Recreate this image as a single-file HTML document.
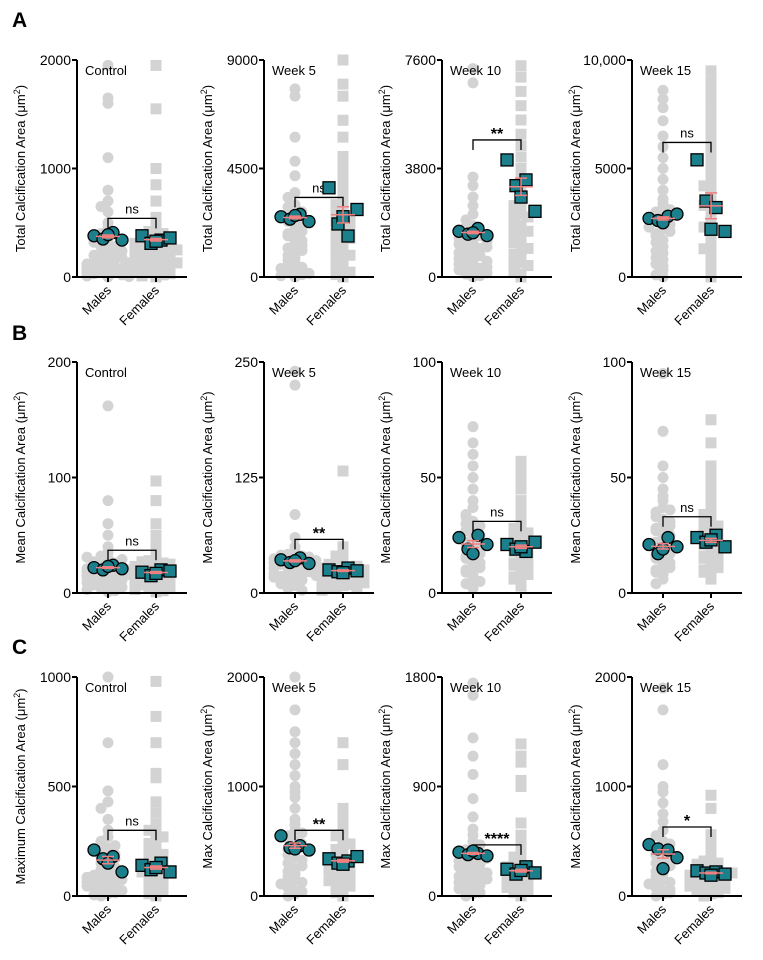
<!DOCTYPE html>
<html><head><meta charset="utf-8"><style>
body{margin:0;background:#fff}
svg{display:block;font-family:"Liberation Sans",Arial,sans-serif}
</style></head><body>
<svg id="fig" width="763" height="960" viewBox="0 0 763 960">
<text x="12" y="27" font-size="21" font-weight="bold">A</text>
<text x="12" y="340" font-size="21" font-weight="bold">B</text>
<text x="12" y="654" font-size="21" font-weight="bold">C</text>
</svg>
<script>
const axisX=[77,264,442,632];
const rowTop=[60,362,677];
const rowBot=[277,593,896];
const titles=["Control","Week 5","Week 10","Week 15"];
const yLabels=["Total Calcification Area","Mean Calcification Area","Max Calcification Area"];
const yMax=[2000,9000,7600,10000,200,250,100,100,1000,2000,1800,2000];
const tickLabels=[["0","1000","2000"],["0","4500","9000"],["0","3800","7600"],["0","5000","10,000"],["0","100","200"],["0","125","250"],["0","50","100"],["0","50","100"],["0","500","1000"],["0","1000","2000"],["0","900","1800"],["0","1000","2000"]];
const sigText=["ns","ns","**","ns","ns","**","ns","ns","ns","**","****","*"];
const bracketVal=[540,3300,4800,6200,37,58,31,33,300,600,420,630];
const maleMice=[[380,350,410,340,390],[2500,2400,2600,2300,2550],[1600,1500,1700,1450,1550],[2700,2600,2800,2900,2500],[22,20,24,21,23],[36,33,38,32,35],[24,19,25,21,17],[21,17,24,20,19],[210,170,180,110,150],[550,440,460,420,430],[360,340,350,330,370],[470,430,420,350,250]];
const femaleMice=[[380,310,340,360,330],[3700,2200,1700,2800,2500],[4100,3200,3400,2300,2800],[5400,3500,3200,2100,2200],[18,15,20,19,17],[25,23,27,24,22],[21,19,18,22,20],[24,22,25,20,23],[140,120,150,110,130],[340,300,320,360,290],[220,180,240,190,210],[230,210,220,200,190]];
const maleCells=[
[1950,1650,1600,1100,800,700,650,600,500,450,400,350,300,280,250,220,200,180,150,120,100,90,80,60,50,40,30,20,10,5,0,10,25,40,60,80,100,130,160,200,240,280,320,15,35,55,75,95,120,150,180,5,20,45,70],
[7800,7500,5800,4800,4200,3500,3300,3000,2800,2600,2200,2000,1800,1600,1400,1200,1000,900,800,600,500,400,300,200,100,50,2900,2700,2500,2300,2100,1900,1700,1500,1300,1100,700,350,150,0],
[7300,6800,3500,3200,2800,2500,2200,2000,1800,1600,1400,1300,1200,1100,1000,900,800,700,600,500,400,300,200,100,50,1750,1650,1550,1450,1350,1250,1150,1050,950,850,750,650,550,450,350,250,150,0],
[8600,8200,7800,7200,6500,6000,5500,5000,4500,4000,3600,3200,3000,2800,2500,2200,2000,1700,1400,1100,800,500,300,100,3400,3100,2900,2700,2600,2400,2300,2100,1900,1600,1200,900,600,0],
[162,80,60,50,40,35,32,30,28,26,24,22,20,19,18,17,16,15,14,12,10,8,6,4,2,25,23,21,20,19,18,16,15,13,11,9,7,5,3,1,27,29,31],
[240,225,85,60,50,45,42,40,38,36,34,32,30,28,26,24,22,20,18,15,12,8,5,41,39,37,35,33,31,29,27,25,23,21,19,17,14,10,3],
[72,65,60,55,50,45,40,37,34,31,28,26,24,22,20,18,16,14,12,10,8,6,4,2,33,30,29,27,25,23,21,19,17,15,13,11,9,5],
[95,70,55,50,45,42,40,37,35,32,30,28,26,24,22,20,18,16,14,12,10,8,6,36,33,31,29,27,25,23,21,19,17,15,13,11,9,4],
[1000,700,480,430,400,350,300,270,250,220,200,180,160,140,120,100,90,80,70,60,50,40,30,20,10,0,15,35,55,75,95,110,130,150,170,190,210,230,5,25,45,65,85],
[2000,1700,1500,1400,1300,1200,1100,1000,950,900,800,700,650,600,550,500,450,400,350,300,250,200,150,100,50,20,0,75,125,175,225,275,325,375,425,475,525,575,40,110],
[1750,1650,1300,1150,1000,800,650,550,500,450,400,350,320,300,280,250,220,200,170,150,120,100,80,50,20,0,30,60,90,110,140,160,190,210,240,260,290,310,330,380,420],
[1900,1700,1200,1000,950,850,750,680,600,550,500,450,400,350,300,250,200,150,100,50,20,0,30,75,125,175,225,275,325,375,425,475,60,110]];
const femaleCells=[
[1950,1550,1000,850,700,550,500,450,420,400,380,350,320,300,280,260,240,220,200,180,160,140,120,100,80,60,40,20,0,10,30,50,70,90,110,130,150,170,190,210,230,250,270,290,310,330,360],
[9000,8000,7500,6500,5800,5000,4600,4200,3800,3500,3200,3000,2800,2500,2200,2000,1800,1500,1200,1000,800,500,300,100,2700,2600,2400,2300,2100,1900,1700,1600,1400,1100,900,700,400,200,0],
[7400,7000,6500,6000,5500,5000,4600,4200,3800,3500,3200,2900,2600,2400,2200,2000,1800,1500,1300,1100,900,700,500,300,100,1900,1700,1600,1400,1200,1000,800,600,400,200,0,2100,2300,2500],
[9500,9000,8500,8000,7500,7000,6500,6000,5500,5000,4500,4000,3500,3000,2500,2000,1500,1000,500,200,3800,3300,2800,2300,1800,1300,800,0,4200,4700],
[97,80,60,50,45,40,35,30,28,26,24,22,20,18,16,14,12,10,8,6,4,2,21,19,17,15,13,11,9,7,5,3,1,25,27,23],
[132,50,45,40,35,32,30,28,26,24,22,20,18,16,14,12,10,8,6,31,29,27,25,23,21,19,17,15,13,11,9,7,5,3],
[57,55,52,48,45,40,36,33,30,27,25,23,21,19,17,15,13,11,9,7,5,3,24,22,20,18,16,14,12,10,8,6,28,26],
[75,65,55,52,48,44,40,36,33,30,28,26,24,22,20,18,16,14,12,10,8,6,34,31,29,27,25,23,21,19,17,15,13,11,9],
[980,820,700,560,540,430,380,330,290,260,230,200,180,160,140,120,100,80,60,40,20,0,10,30,50,70,90,110,130,150,170,190,210,240,270,300],
[1400,1200,800,750,700,650,600,550,500,450,400,350,300,250,200,150,100,50,0,30,75,125,175,225,275,325,375,425,475,90,140,190,240],
[1250,1150,1100,950,900,600,500,450,400,350,300,250,220,200,180,150,120,90,60,30,0,40,70,100,130,160,190,210,240,270,320],
[920,800,560,500,420,350,320,300,280,250,220,200,180,160,140,120,100,80,60,40,20,0,30,50,70,90,110,130,150,170,190,210,230,260,290]];

const svg=document.getElementById('fig');
const NS='http://www.w3.org/2000/svg';
function mk(tag,attrs,parent){const e=document.createElementNS(NS,tag);for(const k in attrs)e.setAttribute(k,attrs[k]);(parent||svg).appendChild(e);return e;}
const mean=a=>a.reduce((s,v)=>s+v,0)/a.length;
const sem=a=>{const m=mean(a);return Math.sqrt(a.reduce((s,v)=>s+(v-m)*(v-m),0)/(a.length-1))/Math.sqrt(a.length);};

for(let p=0;p<12;p++){
  const r=Math.floor(p/4),c=p%4;
  const ax=axisX[c],top=rowTop[r],bot=rowBot[r];
  const y=v=>bot-(v/yMax[p])*(bot-top);
  const mx=ax+31,fx=ax+79;
  const g=mk('g',{});
  
  
  [[maleCells[p],mx,'circle'],[femaleCells[p],fx,'rect']].forEach(([arr,cx,shape])=>{
    const bins={};
    arr.forEach(v=>{
      const py=y(v);const b=Math.round(py/7);bins[b]=(bins[b]||0);const k=bins[b]++;
      const off=(k===0?0:(k%2?-1:1)*Math.ceil(k/2)*7);
      const px=cx+Math.max(-21,Math.min(21,off));
      let e;
      if(shape==='circle')e=mk('circle',{cx:px,cy:py,r:5.5,fill:'#d3d3d3'},g);
      else e=mk('rect',{x:px-5.5,y:py-5.5,width:11,height:11,fill:'#d3d3d3'},g);
      
      
    });
  });
  const axes=mk('path',{d:`M${ax} ${top}V${bot}H${ax+110}`,stroke:'#000','stroke-width':2,fill:'none'},g);
  
  
  tickLabels[p].forEach((t,i)=>{
    const ty=bot-i*(bot-top)/2;
    mk('line',{x1:ax-5,x2:ax,y1:ty,y2:ty,stroke:'#000','stroke-width':2},g);
    const tx=mk('text',{x:ax-6,y:ty+5,'font-size':14,'text-anchor':'end'},g);tx.textContent=t;
    
    
  });
  [mx,fx].forEach(x=>mk('line',{x1:x,x2:x,y1:bot,y2:bot+5,stroke:'#000','stroke-width':2},g));
  [['Males',mx],['Females',fx]].forEach(([t,x])=>{
    const tx=mk('text',{x:x+4,y:bot+14,'font-size':13,'text-anchor':'end',transform:`rotate(-45 ${x+4} ${bot+14})`},g);tx.textContent=t;
    
    
  });
  const tt=mk('text',{x:ax+8,y:top+15,'font-size':13},g);tt.textContent=titles[c];
  
  
  const lx=ax-52,ly=(top+bot)/2;
  const yl=mk('text',{x:lx,y:ly,'font-size':13,'text-anchor':'middle',transform:`rotate(-90 ${lx} ${ly})`},g);
  yl.innerHTML=(r===2&&c===0?'Maximum Calcification Area':yLabels[r])+' (μm<tspan dy="-5" font-size="9">2</tspan><tspan dy="5">)</tspan>';
  
  
  const by=y(bracketVal[p]);
  const br=mk('path',{d:`M${mx} ${by+10}V${by}H${fx}V${by+10}`,stroke:'#000','stroke-width':1.3,fill:'none'},g);
  
  
  const st=mk('text',{x:(mx+fx)/2,y:sigText[p]==='ns'?by-5:by-1,'font-size':sigText[p]==='ns'?13:16,'font-weight':sigText[p]==='ns'?'normal':'bold','text-anchor':'middle'},g);st.textContent=sigText[p];
  
  
  [[maleMice[p],mx,'circle'],[femaleMice[p],fx,'rect']].forEach(([arr,cx,shape])=>{
    arr.forEach((v,i)=>{
      const py=y(v),px=cx+[-14,-5,5,14,0][i];
      let e;
      if(shape==='circle')e=mk('circle',{cx:px,cy:py,r:6,fill:'#1b7f8c',stroke:'#000','stroke-width':1.3},g);
      else e=mk('rect',{x:px-6,y:py-6,width:12,height:12,fill:'#1b7f8c',stroke:'#000','stroke-width':1.3},g);
      
      
    });
    const m=mean(arr),s=sem(arr);
    const my=y(m),ey1=y(m+s),ey2=y(m-s);
    const eb=mk('path',{d:`M${cx-12} ${my}H${cx+12}M${cx} ${ey1}V${ey2}M${cx-6} ${ey1}H${cx+6}M${cx-6} ${ey2}H${cx+6}`,stroke:'#f08080','stroke-width':1.5,fill:'none'},g);
    
    
  });
}
</script>
</body></html>
